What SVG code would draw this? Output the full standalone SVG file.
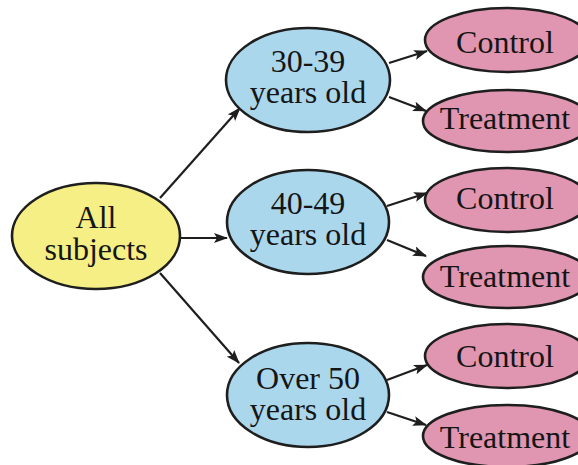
<svg xmlns="http://www.w3.org/2000/svg" width="578" height="465" viewBox="0 0 578 465">
<style>
.n ellipse{stroke:#1e1e1e;stroke-width:2.6}
.root ellipse{fill:#f5ef86}
.age ellipse{fill:#abd7ec}
.grp ellipse{fill:#e096b0}
text{font-family:"Liberation Serif","Times New Roman",serif;font-size:32px;fill:#151515;text-anchor:middle}
.e line{stroke:#1e1e1e;stroke-width:2.2;fill:none}
</style>
<defs>
<marker id="ah" viewBox="0 0 14 10" refX="13" refY="5" markerWidth="14" markerHeight="10" markerUnits="userSpaceOnUse" orient="auto">
<path d="M0,0 L14,5 L0,10 L3,5 Z" fill="#1e1e1e"/>
</marker>
</defs>
<rect width="578" height="465" fill="#ffffff"/>
<g class="e" id="connectors">
<line x1="180" y1="238" x2="227" y2="238" marker-end="url(#ah)"/>
<line x1="160" y1="198" x2="240" y2="108" marker-end="url(#ah)"/>
<line x1="160" y1="273" x2="239" y2="363" marker-end="url(#ah)"/>
<line x1="389" y1="63" x2="427" y2="51" marker-end="url(#ah)"/>
<line x1="389" y1="97" x2="426" y2="111" marker-end="url(#ah)"/>
<line x1="387" y1="206" x2="427" y2="193" marker-end="url(#ah)"/>
<line x1="387" y1="240" x2="426" y2="256" marker-end="url(#ah)"/>
<line x1="387" y1="380" x2="427" y2="365" marker-end="url(#ah)"/>
<line x1="387" y1="412" x2="426" y2="425" marker-end="url(#ah)"/>
</g>
<g class="n root" id="all-subjects">
<ellipse cx="96" cy="236" rx="84" ry="53"/>
<text x="96" y="228">All</text>
<text x="96" y="260">subjects</text>
</g>
<g class="n age" id="age-30-39">
<ellipse cx="308" cy="80" rx="82" ry="52"/>
<text x="308" y="72">30-39</text>
<text x="308" y="103">years old</text>
</g>
<g class="n age" id="age-40-49">
<ellipse cx="308" cy="222" rx="81" ry="52"/>
<text x="308" y="214">40-49</text>
<text x="308" y="245">years old</text>
</g>
<g class="n age" id="age-over-50">
<ellipse cx="308" cy="395" rx="81" ry="52"/>
<text x="308" y="389">Over 50</text>
<text x="308" y="420">years old</text>
</g>
<g class="n grp" id="control-1">
<ellipse cx="507" cy="40" rx="82" ry="32"/>
<text x="505" y="53">Control</text>
</g>
<g class="n grp" id="treatment-1">
<ellipse cx="507" cy="121" rx="84" ry="31"/>
<text x="505" y="129">Treatment</text>
</g>
<g class="n grp" id="control-2">
<ellipse cx="507" cy="200" rx="82" ry="32"/>
<text x="505" y="209">Control</text>
</g>
<g class="n grp" id="treatment-2">
<ellipse cx="507" cy="277" rx="84" ry="31"/>
<text x="505" y="287">Treatment</text>
</g>
<g class="n grp" id="control-3">
<ellipse cx="507" cy="356" rx="82" ry="32"/>
<text x="505" y="367">Control</text>
</g>
<g class="n grp" id="treatment-3">
<ellipse cx="507" cy="436" rx="84" ry="31"/>
<text x="505" y="448">Treatment</text>
</g>
</svg>
